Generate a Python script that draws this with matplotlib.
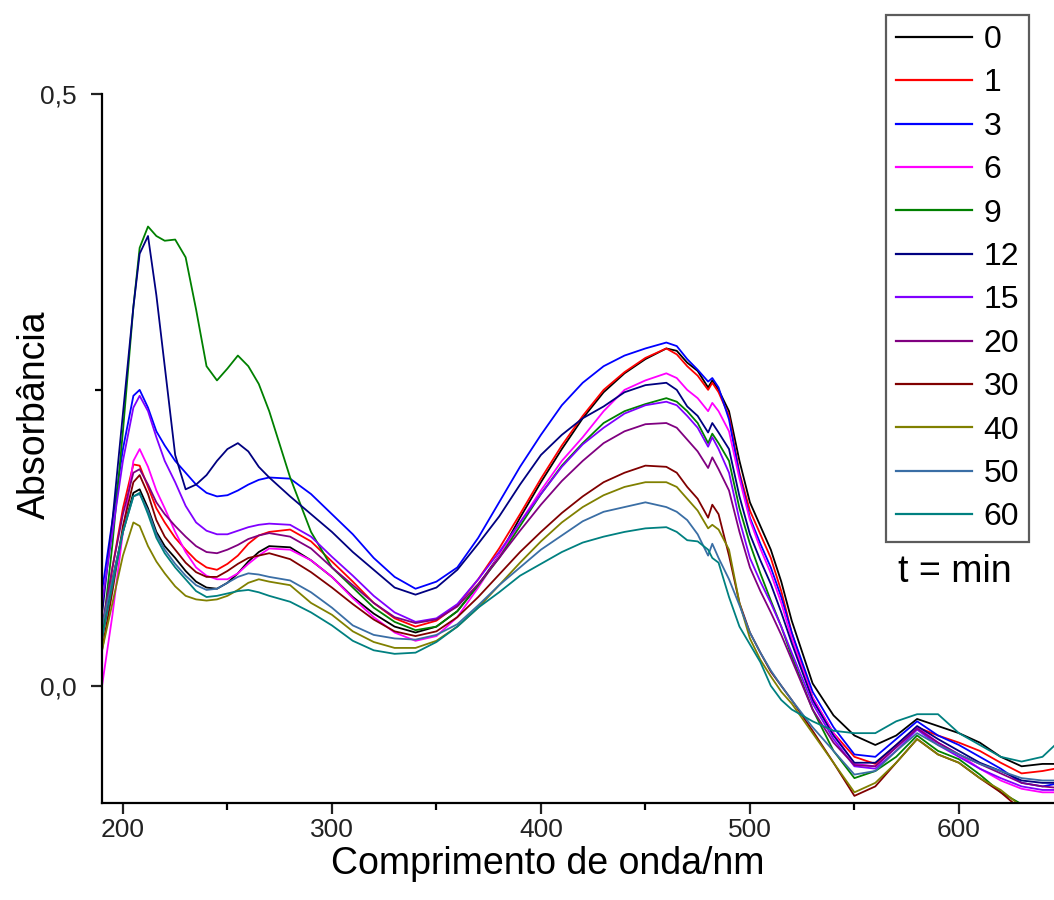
import matplotlib
matplotlib.use('Agg')
import matplotlib.pyplot as plt
from matplotlib.ticker import FixedLocator, FuncFormatter
import numpy as np

plt.rcParams['font.family'] = ['Liberation Sans', 'DejaVu Sans']

# wavelength grid (nm) shared by all spectra
wl = [190, 195, 200, 205, 208, 212, 216, 220, 225, 230, 235, 240, 245, 250, 255, 260,
      265, 270, 280, 290, 300, 310, 320, 330, 340, 350, 360, 370, 380, 390, 400, 410,
      420, 430, 440, 450, 460, 465, 470, 475, 480, 482, 485, 490, 495, 500, 505, 510,
      515, 520, 530, 540, 550, 560, 570, 580, 590, 600, 610, 620, 630, 640, 646]

# absorbance for each reaction time (min)
a_0 = [0.04, 0.09, 0.13, 0.163, 0.166, 0.15, 0.13, 0.118, 0.108, 0.097, 0.088, 0.083, 0.082, 0.087, 0.095, 0.105,
       0.113, 0.118, 0.117, 0.106, 0.092, 0.075, 0.061, 0.05, 0.045, 0.05, 0.063, 0.085, 0.11, 0.142, 0.172, 0.2,
       0.226, 0.248, 0.264, 0.276, 0.285, 0.283, 0.273, 0.266, 0.252, 0.258, 0.25, 0.232, 0.19, 0.155, 0.135, 0.115,
       0.088, 0.055, 0.002, -0.025, -0.042, -0.05, -0.042, -0.028, -0.034, -0.04, -0.048, -0.06, -0.068, -0.066, -0.066]
a_1 = [0.04, 0.1, 0.15, 0.187, 0.186, 0.168, 0.15, 0.138, 0.125, 0.115, 0.106, 0.1, 0.098, 0.103, 0.11, 0.12,
       0.127, 0.13, 0.132, 0.122, 0.105, 0.088, 0.07, 0.057, 0.05, 0.055, 0.068, 0.09, 0.116, 0.145, 0.175, 0.203,
       0.228, 0.25, 0.265, 0.277, 0.285, 0.28, 0.27, 0.262, 0.25, 0.256, 0.248, 0.228, 0.18, 0.148, 0.128, 0.108,
       0.08, 0.045, -0.01, -0.04, -0.06, -0.066, -0.05, -0.035, -0.042, -0.048, -0.055, -0.065, -0.074, -0.072, -0.07]
a_3 = [0.08, 0.14, 0.2, 0.245, 0.25, 0.235, 0.215, 0.203, 0.19, 0.18, 0.17, 0.163, 0.16, 0.161, 0.165, 0.17,
       0.174, 0.176, 0.175, 0.162, 0.145, 0.128, 0.108, 0.092, 0.082, 0.088, 0.1, 0.125, 0.155, 0.185, 0.212, 0.237,
       0.256, 0.27, 0.279, 0.285, 0.29, 0.287, 0.276, 0.267, 0.257, 0.26, 0.252, 0.225, 0.178, 0.142, 0.12, 0.1,
       0.075, 0.045, -0.005, -0.035, -0.058, -0.06, -0.045, -0.03, -0.042, -0.05, -0.06, -0.07, -0.082, -0.085, -0.083]
a_6 = [0.0, 0.06, 0.13, 0.19, 0.2, 0.185, 0.165, 0.15, 0.13, 0.113, 0.1, 0.093, 0.09, 0.09, 0.095, 0.103,
       0.11, 0.116, 0.115, 0.106, 0.092, 0.074, 0.058, 0.045, 0.038, 0.042, 0.058, 0.083, 0.11, 0.138, 0.165, 0.19,
       0.21, 0.232, 0.25, 0.258, 0.264, 0.26, 0.25, 0.243, 0.232, 0.239, 0.232, 0.215, 0.175, 0.14, 0.116, 0.095,
       0.07, 0.04, -0.01, -0.04, -0.066, -0.068, -0.052, -0.035, -0.048, -0.058, -0.07, -0.08, -0.087, -0.09, -0.09]
a_9 = [0.04, 0.12, 0.215, 0.32, 0.37, 0.388, 0.38, 0.376, 0.377, 0.362, 0.318, 0.27, 0.258, 0.268, 0.279, 0.27,
       0.255, 0.232, 0.176, 0.13, 0.1, 0.083, 0.066, 0.054, 0.047, 0.05, 0.063, 0.085, 0.108, 0.135, 0.162, 0.186,
       0.205, 0.222, 0.232, 0.238, 0.243, 0.24, 0.232, 0.222, 0.205, 0.213, 0.205, 0.19, 0.15, 0.12, 0.095, 0.072,
       0.05, 0.025, -0.02, -0.055, -0.078, -0.072, -0.06, -0.042, -0.055, -0.062, -0.075, -0.09, -0.1, -0.104, -0.106]
a_12 = [0.06, 0.14, 0.23, 0.32, 0.365, 0.38, 0.33, 0.27, 0.195, 0.166, 0.17, 0.178, 0.19, 0.2, 0.205, 0.198,
        0.185, 0.176, 0.16, 0.145, 0.13, 0.113, 0.098, 0.083, 0.077, 0.083, 0.098, 0.12, 0.143, 0.17, 0.195, 0.212,
        0.226, 0.236, 0.248, 0.254, 0.256, 0.25, 0.236, 0.228, 0.214, 0.222, 0.214, 0.2, 0.16, 0.128, 0.106, 0.086,
        0.062, 0.036, -0.012, -0.042, -0.065, -0.065, -0.05, -0.034, -0.045, -0.055, -0.065, -0.072, -0.08, -0.082, -0.082]
a_15 = [0.07, 0.13, 0.19, 0.235, 0.245, 0.232, 0.21, 0.19, 0.172, 0.152, 0.138, 0.131, 0.128, 0.128, 0.131, 0.134,
        0.136, 0.137, 0.136, 0.126, 0.109, 0.093, 0.076, 0.062, 0.054, 0.057, 0.069, 0.09, 0.113, 0.138, 0.162, 0.185,
        0.204, 0.218, 0.23, 0.237, 0.24, 0.237, 0.228, 0.218, 0.202, 0.21, 0.2, 0.18, 0.14, 0.108, 0.088, 0.07,
        0.05, 0.028, -0.015, -0.045, -0.068, -0.07, -0.055, -0.037, -0.05, -0.06, -0.07, -0.078, -0.085, -0.088, -0.088]
a_20 = [0.05, 0.1, 0.145, 0.18, 0.183, 0.17, 0.155, 0.145, 0.135, 0.126, 0.118, 0.113, 0.112, 0.115, 0.119, 0.124,
        0.127, 0.129, 0.126, 0.116, 0.1, 0.085, 0.07, 0.058, 0.053, 0.056, 0.067, 0.086, 0.108, 0.131, 0.153, 0.173,
        0.19, 0.205, 0.215, 0.221, 0.222, 0.218, 0.208, 0.198, 0.184, 0.193, 0.183, 0.165, 0.13, 0.1, 0.08, 0.062,
        0.043, 0.022, -0.02, -0.048, -0.067, -0.068, -0.052, -0.036, -0.048, -0.058, -0.066, -0.074, -0.082, -0.085, -0.086]
a_30 = [0.03, 0.08, 0.135, 0.172, 0.178, 0.162, 0.14, 0.126, 0.115, 0.104, 0.096, 0.092, 0.092, 0.097, 0.103, 0.108,
        0.11, 0.112, 0.107, 0.096, 0.083, 0.069, 0.056, 0.046, 0.042, 0.046, 0.058, 0.075, 0.094, 0.113, 0.13, 0.146,
        0.16, 0.172, 0.18, 0.186, 0.185, 0.18, 0.168, 0.158, 0.142, 0.153, 0.145, 0.11, 0.07, 0.045, 0.028, 0.012,
        0.0, -0.012, -0.038, -0.065, -0.093, -0.085, -0.065, -0.045, -0.058, -0.065, -0.078, -0.09, -0.105, -0.11, -0.112]
a_40 = [0.03, 0.07, 0.11, 0.138, 0.135, 0.118, 0.105, 0.095, 0.084, 0.076, 0.073, 0.072, 0.073, 0.076, 0.081, 0.087,
        0.09, 0.088, 0.085, 0.07, 0.06, 0.046, 0.037, 0.032, 0.032, 0.038, 0.05, 0.066, 0.085, 0.104, 0.122, 0.138,
        0.151, 0.161, 0.168, 0.172, 0.172, 0.168, 0.158, 0.148, 0.133, 0.136, 0.132, 0.115, 0.07, 0.04, 0.022, 0.008,
        -0.005, -0.015, -0.04, -0.065, -0.09, -0.082, -0.065, -0.045, -0.058, -0.065, -0.078, -0.088, -0.102, -0.108, -0.11]
a_50 = [0.05, 0.09, 0.13, 0.16, 0.162, 0.148, 0.128, 0.115, 0.103, 0.093, 0.085, 0.081, 0.082, 0.087, 0.092, 0.095,
        0.094, 0.092, 0.089, 0.079, 0.066, 0.051, 0.043, 0.04, 0.039, 0.043, 0.052, 0.068, 0.085, 0.1, 0.115, 0.127,
        0.139, 0.147, 0.151, 0.155, 0.151, 0.147, 0.14, 0.128, 0.11, 0.12, 0.108, 0.09, 0.068, 0.045, 0.028, 0.013,
        0.0, -0.012, -0.035, -0.055, -0.075, -0.072, -0.055, -0.04, -0.05, -0.058, -0.066, -0.072, -0.078, -0.08, -0.08]
a_60 = [0.04, 0.085, 0.13, 0.16, 0.163, 0.145, 0.125, 0.112, 0.1, 0.09, 0.08, 0.075, 0.076, 0.078, 0.08, 0.081,
        0.079, 0.076, 0.071, 0.062, 0.051, 0.038, 0.03, 0.027, 0.028, 0.037, 0.05, 0.066, 0.079, 0.093, 0.103, 0.113,
        0.121, 0.126, 0.13, 0.133, 0.134, 0.13, 0.123, 0.122, 0.115, 0.108, 0.104, 0.075, 0.05, 0.035, 0.02, 0.0,
        -0.012, -0.02, -0.03, -0.038, -0.04, -0.04, -0.03, -0.024, -0.024, -0.04, -0.05, -0.06, -0.064, -0.06, -0.05]

times = ['0', '1', '3', '6', '9', '12', '15', '20', '30', '40', '50', '60']
spectra = [a_0, a_1, a_3, a_6, a_9, a_12, a_15, a_20, a_30, a_40, a_50, a_60]
colors = ['#000000', '#ff0000', '#0000ff', '#ff00ff', '#008000', '#000080',
          '#8000ff', '#800080', '#800000', '#808000', '#3a6ea5', '#008080']

fig = plt.figure(figsize=(10.54, 9.0), dpi=100)
ax = fig.add_axes([0.0968, 0.1078, 0.9032, 0.7878])

for t, a, c in zip(times, spectra, colors):
    ax.plot(wl, a, color=c, lw=1.3, label=t)

ax.set_xlim(190, 645.5)
ax.set_ylim(-0.099, 0.5)

ax.spines['top'].set_visible(False)
ax.spines['right'].set_visible(False)
for s in ['left', 'bottom']:
    ax.spines[s].set_linewidth(1.6)

ax.xaxis.set_major_locator(FixedLocator([200, 300, 400, 500, 600]))
ax.xaxis.set_minor_locator(FixedLocator([250, 350, 450, 550, 650]))
ax.yaxis.set_major_locator(FixedLocator([0.0, 0.5]))
ax.yaxis.set_minor_locator(FixedLocator([0.25]))
ax.yaxis.set_major_formatter(FuncFormatter(lambda v, p: f'{v:.1f}'.replace('.', ',')))

ax.tick_params(which='major', direction='out', length=8, width=1.6, labelsize=19, colors='#222222')
ax.tick_params(axis='x', which='major', pad=3)
ax.tick_params(axis='y', which='major', pad=10)
ax.tick_params(which='minor', direction='out', length=5, width=1.6)

ax.set_xlabel('Comprimento de onda/nm', fontsize=27)
ax.xaxis.set_label_coords(0.468, -0.06)
ax.set_ylabel('Absorbância', fontsize=27)
ax.yaxis.set_label_coords(-0.052, 0.547)

leg = fig.legend(loc='upper left', bbox_to_anchor=(0.8406, 0.983), fontsize=23,
                 handlelength=2.4, handletextpad=0.35, labelspacing=0.42,
                 borderpad=0.3, borderaxespad=0, fancybox=False, frameon=True)
leg.get_frame().set_edgecolor('#333333')
leg.get_frame().set_linewidth(1.6)
for line in leg.get_lines():
    line.set_linewidth(1.6)

fig.text(0.906, 1 - 572 / 900, 't = min', fontsize=27, ha='center', va='center')

fig.savefig('out.png', dpi=100)
